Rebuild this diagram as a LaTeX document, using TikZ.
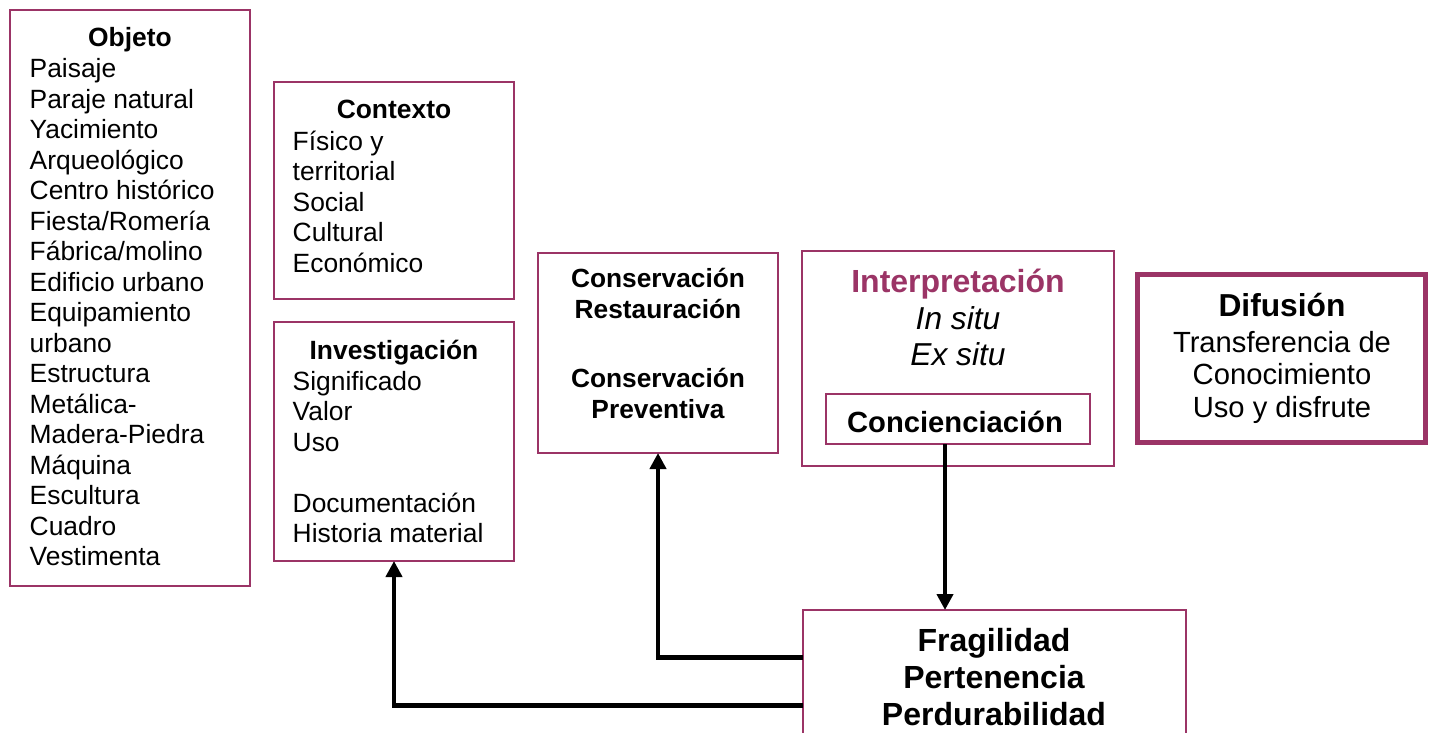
\documentclass[tikz,border=0pt]{standalone}
\usepackage{fontspec}
\setmainfont{Liberation Sans}
\usetikzlibrary{arrows.meta}
\definecolor{plum}{RGB}{155,52,102}
\begin{document}
\begin{tikzpicture}[x=1pt,y=-1pt,
  box/.style={draw=plum,line width=2pt,inner sep=0pt,outer sep=0pt,anchor=north west},
  thickbox/.style={box,line width=5pt},
  txt/.style={inner sep=0pt,anchor=base west,font=\fontsize{26.4}{30.5}\selectfont},
  arr/.style={line width=4.8pt,-{Triangle[width=16pt,length=16pt]}}
]
\useasboundingbox (0,0) rectangle (1432,733);

% boxes
\node[box,minimum width=239.5pt,minimum height=576pt] (obj) at (10,10) {};
\node[box,minimum width=240pt,minimum height=217pt] (ctx) at (274,82) {};
\node[box,minimum width=240pt,minimum height=239pt] (inv) at (274,322) {};
\node[box,minimum width=240pt,minimum height=200pt] (cons) at (538,253) {};
\node[box,minimum width=312pt,minimum height=215pt] (interp) at (802,251) {};
\node[box,minimum width=264pt,minimum height=50pt] (conc) at (826,394) {};
\node[thickbox,minimum width=288pt,minimum height=168pt] (dif) at (1137.5,274.5) {};
\node[box,minimum width=383.5pt,minimum height=140pt] (frag) at (802.5,610) {};

% Objeto
\node[txt,anchor=base] (objt) at (130,47) {\textbf{Objeto}};
\node[txt] (objl) at (29.5,78) {\begin{tabular}[t]{@{}l@{}}Paisaje\\Paraje natural\\Yacimiento\\Arqueológico\\Centro histórico\\Fiesta/Romería\\Fábrica/molino\\Edificio urbano\\Equipamiento\\urbano\\Estructura\\Metálica-\\Madera-Piedra\\Máquina\\Escultura\\Cuadro\\Vestimenta\end{tabular}};

% Contexto
\node[txt,anchor=base] (ctxt) at (394,119) {\textbf{Contexto}};
\node[txt] (ctxl) at (292.5,150) {\begin{tabular}[t]{@{}l@{}}Físico y\\territorial\\Social\\Cultural\\Económico\end{tabular}};

% Investigación
\node[txt,anchor=base] (invt) at (394,359) {\textbf{Investigación}};
\node[txt] (invl) at (292.5,390) {\begin{tabular}[t]{@{}l@{}}Significado\\Valor\\Uso\\ \\Documentación\\Historia material\end{tabular}};

% Conservación
\node[txt,anchor=base,font=\fontsize{26.3}{31}\selectfont\bfseries] (const) at (658,287) {\begin{tabular}[t]{@{}c@{}}Conservación\\Restauración\\[38pt]Conservación\\Preventiva\end{tabular}};

% Interpretación
\node[txt,anchor=base,font=\fontsize{32}{36}\selectfont\bfseries,text=plum] (interpt) at (958,292) {Interpretación};
\node[txt,anchor=base,font=\fontsize{31.7}{36}\selectfont\itshape] (interpl) at (958,329) {\begin{tabular}[t]{@{}c@{}}In situ\\Ex situ\end{tabular}};
\node[txt,anchor=base,font=\fontsize{29.2}{33}\selectfont\bfseries] (conct) at (955,432) {Concienciación};

% Difusión
\node[txt,anchor=base,font=\fontsize{31.75}{36}\selectfont\bfseries] (dift) at (1282,316) {Difusión};
\node[txt,anchor=base,font=\fontsize{29.2}{32.5}\selectfont] (difl) at (1282,352) {\begin{tabular}[t]{@{}c@{}}Transferencia de\\Conocimiento\\Uso y disfrute\end{tabular}};

% Fragilidad
\node[txt,anchor=base,font=\fontsize{32}{37}\selectfont\bfseries] (fragt) at (994,651) {\begin{tabular}[t]{@{}c@{}}Fragilidad\\Pertenencia\\Perdurabilidad\end{tabular}};

% connectors
\draw[arr] ([xshift=-13pt]conc.south) -- ([xshift=-13pt]conc.south |- frag.north);
\draw[arr] ([yshift=-47.5pt]frag.north west) -| (cons.south);
\draw[arr] ([yshift=-95.5pt]frag.north west) -| (inv.south);
\end{tikzpicture}
\end{document}
